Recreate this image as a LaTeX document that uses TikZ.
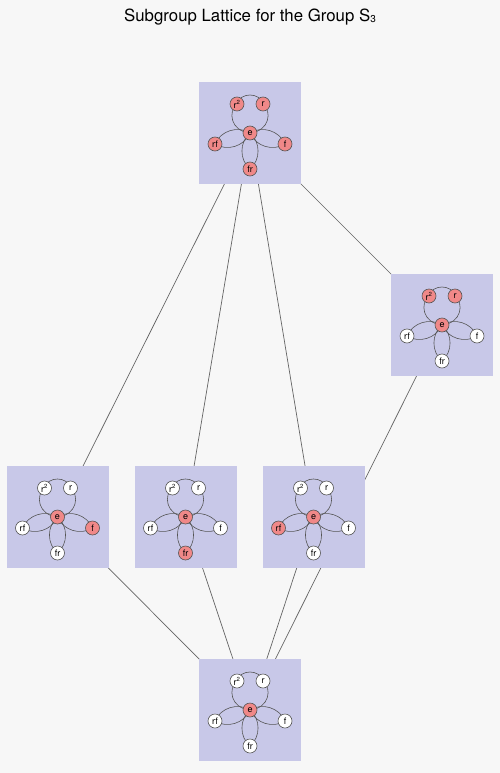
\documentclass[tikz,border=0pt]{standalone}
\usepackage{fontspec}
\setmainfont{TeX Gyre Heros}
\usetikzlibrary{calc}
\definecolor{pagebg}{RGB}{247,247,247}
\definecolor{boxfill}{RGB}{200,200,232}
\definecolor{inred}{RGB}{240,136,136}
\definecolor{edgegray}{RGB}{85,85,85}
\definecolor{linegray}{RGB}{100,100,100}
\pgfdeclarelayer{bg}
\pgfdeclarelayer{lattice}
\pgfdeclarelayer{boxes}
\pgfdeclarelayer{edges}
\pgfsetlayers{bg,lattice,boxes,edges,main}
\tikzset{
  groupbox/.style={rectangle,fill=boxfill,minimum size=102pt,inner sep=0pt},
  elem/.style={circle,draw=edgegray,line width=0.6pt,fill=white,minimum size=14pt,
    inner sep=0pt,font=\fontsize{9}{9}\selectfont},
  member/.style={fill=inred},
  nonmember/.style={fill=white},
  cedge/.style={draw=edgegray,line width=0.6pt},
  hasse/.style={draw=linegray,line width=0.7pt}
}
% Cayley graph of S3 inside a subgroup box.
% #1 box name; #2..#7 styles for e, r, r^2, f, rf, fr
\newcommand\cayleyin[7]{%
  \begin{scope}[shift={(#1.center)}]
    \node[elem,#2] (#1-e) at (0,0) {e};
    \node[elem,#3] (#1-r) at (13,-29) {r};
    \node[elem,#4] (#1-rr) at (-13,-29) {r\textsuperscript{2}};
    \node[elem,#5] (#1-f) at (35,11) {f};
    \node[elem,#6] (#1-rf) at (-35,11) {rf};
    \node[elem,#7] (#1-fr) at (0,36) {fr};
  \end{scope}
  \begin{pgfonlayer}{edges}
    \draw[cedge] (#1-e.center) .. controls +(-20,-2) and +(-9,7) .. (#1-rr.center);
    \draw[cedge] (#1-rr.center) .. controls +(3,-12) and +(-3,-12) .. (#1-r.center);
    \draw[cedge] (#1-r.center) .. controls +(9,7) and +(20,-2) .. (#1-e.center);
    \draw[cedge] (#1-e.center) to[bend left=50] (#1-f.center);
    \draw[cedge] (#1-e.center) to[bend right=50] (#1-f.center);
    \draw[cedge] (#1-e.center) to[bend left=50] (#1-rf.center);
    \draw[cedge] (#1-e.center) to[bend right=50] (#1-rf.center);
    \draw[cedge] (#1-e.center) to[bend left=50] (#1-fr.center);
    \draw[cedge] (#1-e.center) to[bend right=50] (#1-fr.center);
  \end{pgfonlayer}
}
\begin{document}
\begin{tikzpicture}[x=1pt,y=-1pt]
  \begin{pgfonlayer}{bg}
    \fill[pagebg] (0,0) rectangle (500,773);
  \end{pgfonlayer}
  \useasboundingbox (0,0) rectangle (500,773);
  \node[font=\fontsize{16.8}{20}\selectfont] (title) at (250,17)
    {Subgroup Lattice for the Group S\raisebox{-1pt}{\fontsize{10}{10}\selectfont 3}};
  \begin{pgfonlayer}{boxes}
    \node[groupbox] (whole) at (250,133) {};
    \node[groupbox] (rot) at (442,325) {};
    \node[groupbox] (subf) at (57.5,517) {};
    \node[groupbox] (subfr) at (185.5,517) {};
    \node[groupbox] (subrf) at (313.5,517) {};
    \node[groupbox] (triv) at (250,710) {};
  \end{pgfonlayer}
  \cayleyin{whole}{member}{member}{member}{member}{member}{member}
  \cayleyin{rot}{member}{member}{member}{nonmember}{nonmember}{nonmember}
  \cayleyin{subf}{member}{nonmember}{nonmember}{member}{nonmember}{nonmember}
  \cayleyin{subfr}{member}{nonmember}{nonmember}{nonmember}{nonmember}{member}
  \cayleyin{subrf}{member}{nonmember}{nonmember}{nonmember}{member}{nonmember}
  \cayleyin{triv}{member}{nonmember}{nonmember}{nonmember}{nonmember}{nonmember}
  \begin{pgfonlayer}{lattice}
    \draw[hasse] (whole.center) -- (subf.center);
    \draw[hasse] (whole.center) -- (subfr.center);
    \draw[hasse] (whole.center) -- (subrf.center);
    \draw[hasse] (whole.center) -- (rot.center);
    \draw[hasse] (rot.center) -- (triv.center);
    \draw[hasse] (subf.center) -- (triv.center);
    \draw[hasse] (subfr.center) -- (triv.center);
    \draw[hasse] (subrf.center) -- (triv.center);
  \end{pgfonlayer}
\end{tikzpicture}
\end{document}
